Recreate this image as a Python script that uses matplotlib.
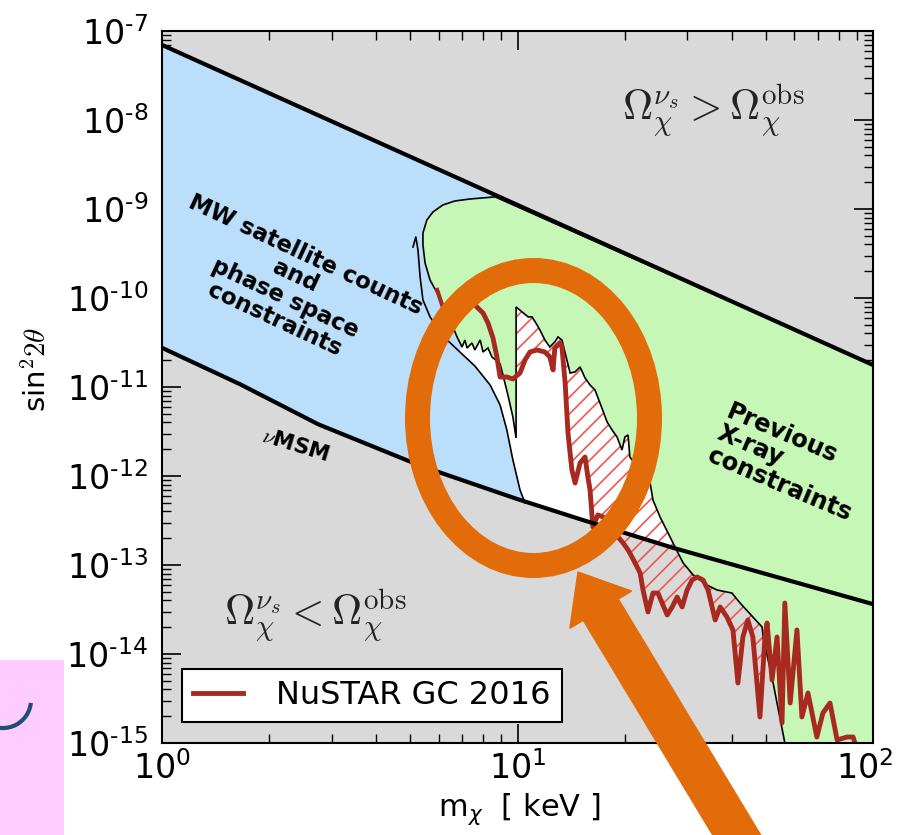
import numpy as np
import matplotlib.pyplot as plt
from matplotlib.patches import Polygon, Ellipse, Rectangle, Arc, FancyArrow
from matplotlib.lines import Line2D
from matplotlib.ticker import FuncFormatter, LogLocator, NullFormatter
from matplotlib.transforms import IdentityTransform, ScaledTranslation

plt.rcParams['font.family'] = ['DejaVu Sans']
plt.rcParams['mathtext.fontset'] = 'dejavusans'
plt.rcParams['hatch.linewidth'] = 1.2

# all curves stored as log10(m / keV), log10(sin^2 2theta)

# Omega_chi = Omega_obs bounds (upper one: overproduction, lower one: nuMSM)
omega_hi_logm = [0.0, 2.0]
omega_hi_logs = [-7.157, -10.753]
omega_lo_logm = [0.0, 0.22, 0.44, 0.73, 1.0, 1.18, 1.44, 2.0]
omega_lo_logs = [-10.56, -10.97, -11.42, -11.89, -12.26, -12.49, -12.81, -13.44]

# MW satellite counts + phase space edge
mw_logm = [0.706, 0.714, 0.720, 0.726, 0.734, 0.754, 0.774, 0.802, 0.838,
           0.880, 0.923, 0.951, 0.970, 0.987, 1.007, 1.021]
mw_logs = [-9.427, -9.315, -9.461, -9.764, -10.022, -10.213, -10.326, -10.472,
           -10.607, -10.764, -10.978, -11.202, -11.483, -11.820, -12.157, -12.303]

# previous X-ray limits, lower edge of the excluded region
xray_logm = [0.937, 0.866, 0.824, 0.790, 0.762, 0.745, 0.734, 0.734, 0.740,
             0.754, 0.774, 0.790, 0.810, 0.830, 0.844, 0.852, 0.858, 0.872,
             0.880, 0.895, 0.903, 0.917, 0.928, 0.942, 0.951, 0.959, 0.973,
             0.987, 0.996, 0.996, 1.013, 1.030, 1.041, 1.055, 1.063, 1.077,
             1.091, 1.105, 1.114, 1.125, 1.134, 1.148, 1.162, 1.176, 1.190,
             1.204, 1.218, 1.232, 1.252, 1.266, 1.280, 1.294, 1.302, 1.311,
             1.316, 1.345, 1.373, 1.381, 1.401, 1.429, 1.443, 1.466, 1.494,
             1.533, 1.561, 1.603, 1.626, 1.662, 1.688, 1.691, 1.719, 1.752]
xray_logs = [-8.864, -8.888, -8.910, -8.955, -9.034, -9.124, -9.270, -9.404,
             -9.607, -9.798, -9.944, -10.101, -10.247, -10.438, -10.551,
             -10.472, -10.562, -10.506, -10.584, -10.472, -10.607, -10.562,
             -10.663, -10.708, -10.742, -10.865, -11.090, -11.337, -11.573,
             -10.101, -10.157, -10.213, -10.213, -10.303, -10.360, -10.472,
             -10.551, -10.494, -10.438, -10.472, -10.618, -10.843, -10.831,
             -10.775, -10.899, -10.978, -11.034, -11.180, -11.393, -11.483,
             -11.562, -11.708, -11.562, -11.539, -11.787, -11.933, -12.079,
             -12.270, -12.461, -12.685, -12.798, -12.978, -13.112, -13.225,
             -13.281, -13.315, -13.427, -13.584, -13.697, -13.809, -14.326,
             -15.0]

# NuSTAR Galactic Center 2016 limit
nustar_logm = [0.866, 0.880, 0.903, 0.917, 0.931, 0.942, 0.951, 0.970, 0.987,
               1.007, 1.021, 1.035, 1.055, 1.077, 1.091, 1.100, 1.105, 1.120,
               1.125, 1.134, 1.142, 1.153, 1.162, 1.176, 1.190, 1.198, 1.204,
               1.212, 1.226, 1.241, 1.269, 1.283, 1.297, 1.311, 1.322, 1.345,
               1.353, 1.367, 1.381, 1.395, 1.421, 1.435, 1.449, 1.463, 1.477,
               1.491, 1.505, 1.522, 1.536, 1.556, 1.570, 1.589, 1.606, 1.620,
               1.634, 1.648, 1.662, 1.682, 1.696, 1.702, 1.716, 1.730, 1.744,
               1.752, 1.767, 1.786, 1.800, 1.817, 1.842, 1.859, 1.879, 1.899,
               1.927, 1.944, 1.963]
nustar_logs = [-10.0, -10.079, -10.169, -10.281, -10.449, -10.663, -10.888,
               -10.888, -10.910, -10.843, -10.697, -10.607, -10.584, -10.607,
               -10.663, -10.809, -10.562, -10.506, -10.551, -10.955, -11.517,
               -11.933, -12.079, -11.854, -11.787, -12.011, -12.157, -12.573,
               -12.438, -12.461, -12.607, -12.685, -12.753, -12.831, -12.910,
               -13.090, -13.281, -13.528, -13.315, -13.315, -13.562, -13.472,
               -13.360, -13.472, -13.281, -13.169, -13.135, -13.169, -13.281,
               -13.618, -13.472, -13.584, -13.730, -14.326, -13.809, -13.618,
               -13.809, -14.708, -13.809, -13.652, -14.292, -13.809, -14.775,
               -13.427, -14.551, -13.730, -14.708, -14.438, -14.933, -14.663,
               -14.551, -14.966, -14.933, -14.933, -15.19]
nustar_stub_logm = [0.774, 0.788]
nustar_stub_logs = [-9.910, -10.079]

xticks = [1, 10, 100]
yticks = [1e-15, 1e-14, 1e-13, 1e-12, 1e-11, 1e-10, 1e-9, 1e-8, 1e-7]
xmin, xmax = 1.0, 100.0
ymin, ymax = 1e-15, 1e-7

GRAY = '#d9d9d9'
BLUE = '#bbdffa'
GREEN = '#c6f7b6'
RED = '#a8291f'
HATCH = '#f0574c'
ORANGE = '#e36c0a'

fig = plt.figure(figsize=(8.99, 8.35), dpi=100)
ax = fig.add_axes([0.1802, 0.1102, 0.7909, 0.8527])
ax.set_xscale('log')
ax.set_yscale('log')
ax.set_xlim(xmin, xmax)
ax.set_ylim(ymin, ymax)
ax.set_facecolor(GRAY)


def pts(logm, logs):
    return np.column_stack([10 ** np.asarray(logm), 10 ** np.asarray(logs)])


hi = pts(omega_hi_logm, omega_hi_logs)
lo = pts(omega_lo_logm, omega_lo_logs)
mw = pts(mw_logm, mw_logs)
xr = pts(xray_logm, xray_logs)
nu = pts(nustar_logm, nustar_logs)


def upper_at(lm):
    return 10 ** np.interp(lm, omega_hi_logm, omega_hi_logs)


# allowed band between the two abundance lines
band = np.vstack([lo, hi[::-1]])
ax.add_patch(Polygon(band, closed=True, facecolor='white', edgecolor='none', zorder=1))

# MW satellites / phase space region
blue_start = mw_logm.index(0.838)
blue = np.vstack([[[xmin, upper_at(0.0)]],
                  [[10 ** 0.95, upper_at(0.95)]],
                  mw[blue_start:],
                  lo[::-1][lo[::-1][:, 0] < mw[-1, 0]]])
ax.add_patch(Polygon(blue, closed=True, facecolor=BLUE, edgecolor='none', zorder=2))

# hatched gain from NuSTAR, right of the 10 keV edge
edge_lm = xray_logm[28]
sel = np.asarray(nustar_logm) > edge_lm
start_s = 10 ** np.interp(edge_lm, nustar_logm, nustar_logs)
hatch = np.vstack([[[10 ** edge_lm, start_s]],
                   nu[sel],
                   [[nu[-1, 0], upper_at(nustar_logm[-1])]],
                   [[10 ** edge_lm, upper_at(edge_lm)]]])
ax.add_patch(Polygon(hatch, closed=True, facecolor='none', edgecolor=HATCH,
                     hatch='//', linewidth=0, zorder=2.5))

# previous X-ray exclusion, drawn over the hatch
green = np.vstack([xr,
                   [[xmax, ymin]],
                   [[xmax, upper_at(2.0)]]])
ax.add_patch(Polygon(green, closed=True, facecolor=GREEN, edgecolor='black',
                     linewidth=1.2, zorder=3))

ax.plot(mw[:, 0], mw[:, 1], color='black', lw=1.2, zorder=4)
ax.plot(nu[:, 0], nu[:, 1], color=RED, lw=3.5, zorder=5, solid_joinstyle='round')
ax.plot(10 ** np.asarray(nustar_stub_logm), 10 ** np.asarray(nustar_stub_logs),
        color=RED, lw=3, zorder=5)
ax.plot(hi[:, 0], hi[:, 1], color='black', lw=3, zorder=6)
ax.plot(lo[:, 0], lo[:, 1], color='black', lw=3, zorder=6)

# region labels
ax.text(0.180, 0.640, 'MW satellite counts\nand\nphase space\nconstraints',
        transform=ax.transAxes, rotation=-25, rotation_mode='anchor',
        ha='center', va='center', multialignment='center', linespacing=1.05,
        fontsize=16.5, fontweight='bold', zorder=7)
ax.text(0.882, 0.394, 'Previous\nX-ray\nconstraints',
        transform=ax.transAxes, rotation=-23, rotation_mode='anchor',
        ha='center', va='center', multialignment='left', linespacing=1.0,
        fontsize=17.5, fontweight='bold', zorder=7)
ax.text(0.188, 0.418, r'$\nu$MSM', transform=ax.transAxes, rotation=-17,
        rotation_mode='anchor', ha='center', va='center', fontsize=15.5,
        fontweight='bold', math_fontfamily='cm', zorder=7)
ax.text(0.776, 0.889, r'$\Omega_\chi^{\nu_s} > \Omega_\chi^{\rm obs}$',
        transform=ax.transAxes, ha='center', va='center', fontsize=30,
        math_fontfamily='cm', color='#222222', zorder=7)
ax.text(0.215, 0.180, r'$\Omega_\chi^{\nu_s} < \Omega_\chi^{\rm obs}$',
        transform=ax.transAxes, ha='center', va='center', fontsize=30,
        math_fontfamily='cm', color='#222222', zorder=7)

leg = ax.legend(handles=[Line2D([], [], color=RED, lw=3.5)],
                labels=['NuSTAR GC 2016'], loc='lower left',
                bbox_to_anchor=(0.028, 0.0295), borderaxespad=0, fontsize=23,
                fancybox=False, framealpha=1, edgecolor='black',
                handlelength=1.55, handletextpad=1.05, borderpad=0.35)
leg.get_frame().set_linewidth(1.5)
leg.set_zorder(8)

# axes styling
ax.set_xticks(xticks)
ax.set_yticks(yticks)
ax.xaxis.set_major_formatter(FuncFormatter(lambda v, p: '$10^{%d}$' % round(np.log10(v))))
ax.yaxis.set_major_formatter(FuncFormatter(
    lambda v, p: '$10^{\u2010%d}$' % round(-np.log10(v))))
ax.yaxis.set_minor_locator(LogLocator(base=10, subs=np.arange(2, 10), numticks=100))
ax.xaxis.set_minor_locator(LogLocator(base=10, subs=np.arange(2, 10), numticks=100))
ax.yaxis.set_minor_formatter(NullFormatter())
ax.xaxis.set_minor_formatter(NullFormatter())
ax.tick_params(which='both', direction='in', top=True, right=True)
ax.tick_params(which='major', length=14, width=1.2, labelsize=24)
ax.tick_params(which='minor', length=6.5, width=1.0)
ax.tick_params(axis='y', which='major', pad=10)
ax.tick_params(axis='x', which='major', pad=6)
for sp in ax.spines.values():
    sp.set_linewidth(1.5)
    sp.set_zorder(10)

ax.set_ylabel(r'sin$^2 2\theta$', fontsize=21, math_fontfamily='cm')
ax.yaxis.set_label_coords(-0.155, 0.524)
ax.set_xlabel(r'm$_\chi$  [ keV ]', fontsize=22)
ax.xaxis.set_label_coords(0.503, -0.068)

# slide decorations on top of the plot
idt = IdentityTransform()
fig.add_artist(Rectangle((0, 0), 64, 175, facecolor='#ffccff', edgecolor='none',
                         transform=idt, zorder=1))
fig.add_artist(Arc((3, 135), 56, 56, theta1=240, theta2=354, color='#1f4e79',
                   lw=3, transform=idt, zorder=2))
fig.add_artist(Ellipse((533.5, 417), 232, 295, fill=False, edgecolor=ORANGE,
                       lw=18, transform=idt, zorder=20))
fig.add_artist(FancyArrow(750, -22, -172, 285, width=41, head_width=72,
                          head_length=44, length_includes_head=True,
                          color=ORANGE, transform=idt, zorder=20))

# keep the last mass label inside the canvas
fig.canvas.draw()
last = ax.xaxis.get_major_ticks()[len(xticks) - 1].label1
last.set_transform(last.get_transform() +
                   ScaledTranslation(-6 / 72, 0, fig.dpi_scale_trans))

fig.savefig('out.png', dpi=100)
